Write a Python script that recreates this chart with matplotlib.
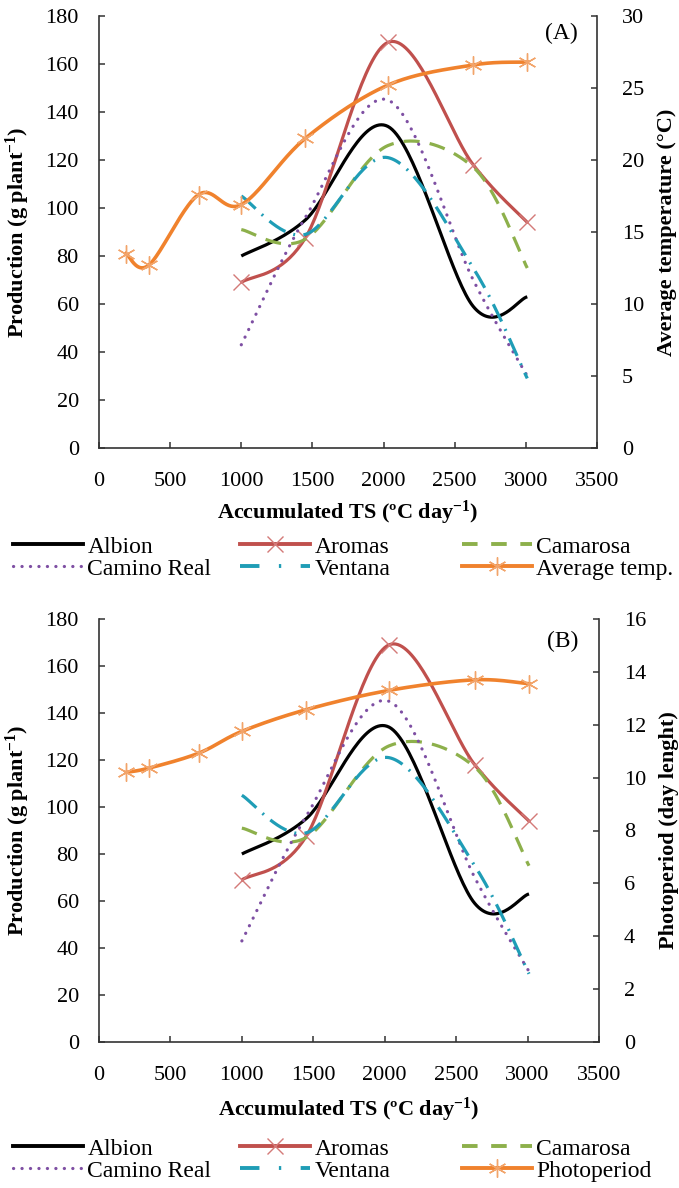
import numpy as np
import matplotlib
matplotlib.use("Agg")
import matplotlib.pyplot as plt
from matplotlib.lines import Line2D

plt.rcParams['font.family'] = ['Liberation Serif', 'DejaVu Serif']
plt.rcParams['mathtext.fontset'] = 'custom'
plt.rcParams['mathtext.rm'] = 'Liberation Serif'
plt.rcParams['mathtext.bf'] = 'Liberation Serif:bold'
plt.rcParams['mathtext.it'] = 'Liberation Serif:italic'

# ---------------- data ----------------
ts_cultivar = [1000, 1450, 2030, 2630, 3010]
albion = [80, 95, 134, 59, 63]
aromas = [69, 87.5, 169, 118, 94]
camarosa = [91, 87, 126, 117, 75]
camino_real = [43, 96, 145, 70, 30]
ventana = [105, 89, 121, 75, 29]

ts_env = [190, 350, 700, 1000, 1450, 2030, 2630, 3010]
avg_temp = [13.5, 12.7, 17.6, 16.9, 21.5, 25.2, 26.6, 26.8]
photoperiod = [10.2, 10.36, 10.93, 11.75, 12.57, 13.3, 13.7, 13.55]

x_ticks = [0, 500, 1000, 1500, 2000, 2500, 3000, 3500]
prod_ticks = [0, 20, 40, 60, 80, 100, 120, 140, 160, 180]
temp_ticks = [0, 5, 10, 15, 20, 25, 30]
photo_ticks = [0, 2, 4, 6, 8, 10, 12, 14, 16]

# ---------------- helpers ----------------
def smooth(x, y, n=40):
    """Excel-like smoothed line (Catmull-Rom as cubic Bezier)."""
    P = np.column_stack([x, y]).astype(float)
    m = len(P)
    out = []
    t = np.linspace(0, 1, n)[:, None]
    for i in range(m - 1):
        p0 = P[i - 1] if i > 0 else P[i]
        p1 = P[i]
        p2 = P[i + 1]
        p3 = P[i + 2] if i + 2 < m else P[i + 1]
        c1 = p1 + (p2 - p0) / 6.0
        c2 = p2 - (p3 - p1) / 6.0
        seg = ((1 - t) ** 3) * p1 + 3 * ((1 - t) ** 2) * t * c1 + 3 * (1 - t) * t ** 2 * c2 + t ** 3 * p2
        out.append(seg if i == 0 else seg[1:])
    s = np.vstack(out)
    return s[:, 0], s[:, 1]

C_ALB = 'black'
C_ARO = '#C0504D'
C_CAM = '#8DB04B'
C_CRE = '#7E4FA3'
C_VEN = '#1F9DB6'
C_ORG = '#F0822D'
LW = 2.3
FS = 16
FS_LEG = 17

ls_cam = (0, (5, 3.2))
ls_ven = (0, (6, 2.6, 0.6, 2.6))
ls_cre = (0, (0.05, 2.6))

fig = plt.figure(figsize=(6.79, 11.88), dpi=100)

def panel(rect, env_vals, env_ticks, env_max, env_label, env_name, tag, xlab_y, tag_y, leg_y):
    ax = fig.add_axes(rect)
    ax2 = ax.twinx()
    # cultivars
    xs, ys = smooth(ts_cultivar, albion)
    ax.plot(xs, ys, color=C_ALB, lw=LW, solid_capstyle='butt')
    xs, ys = smooth(ts_cultivar, aromas)
    ax.plot(xs, ys, color=C_ARO, lw=LW, solid_capstyle='butt')
    ax.plot(ts_cultivar, aromas, ls='none', marker='x', ms=11, mew=1.0,
            color='#D47A78')
    xs, ys = smooth(ts_cultivar, camarosa)
    ax.plot(xs, ys, color=C_CAM, lw=LW, ls=ls_cam)
    xs, ys = smooth(ts_cultivar, camino_real)
    ax.plot(xs, ys, color=C_CRE, lw=LW, ls=ls_cre, dash_capstyle='round')
    xs, ys = smooth(ts_cultivar, ventana)
    ax.plot(xs, ys, color=C_VEN, lw=LW, ls=ls_ven)
    # environment
    xs, ys = smooth(ts_env, env_vals)
    ax2.plot(xs, ys, color=C_ORG, lw=LW + 0.3)
    ax2.plot(ts_env, env_vals, ls='none', marker=(6, 2, 0), ms=13, mew=1.0,
             color='#F2A46A')

    ax.set_xlim(0, 3500)
    ax.set_ylim(0, 180)
    ax2.set_ylim(0, env_max)
    ax.set_xticks(x_ticks)
    ax.set_yticks(prod_ticks)
    ax2.set_yticks(env_ticks)
    for a in (ax, ax2):
        a.spines['top'].set_visible(False)
        for s in a.spines.values():
            s.set_linewidth(1.2)
            s.set_color('#333333')
    ax.spines['right'].set_visible(False)
    ax2.spines['left'].set_visible(False)
    ax2.spines['bottom'].set_visible(False)
    ax.tick_params(axis='y', direction='in', length=4, width=1.1, pad=14.5,
                   labelsize=FS, color='#333333')
    ax.tick_params(axis='x', direction='in', length=4, width=1.1, pad=17,
                   labelsize=FS, color='#333333')
    ax2.tick_params(axis='y', direction='in', length=4, width=1.1, pad=18,
                    labelsize=FS, color='#333333')
    ax.set_ylabel(r'Production (g plant$^{\mathbf{-1}}$)', fontsize=FS,
                  fontweight='bold', va='center', ha='center')
    ax.yaxis.set_label_coords(-0.163, 0.5)
    ax.set_xlabel(r'Accumulated TS (ºC day$^{\mathbf{-1}}$)', fontsize=FS,
                  fontweight='bold', va='center', ha='center')
    ax.xaxis.set_label_coords(0.5, xlab_y)
    ax2.set_ylabel(env_label, fontsize=FS, fontweight='bold', va='center',
                   ha='center')
    ax2.yaxis.set_label_coords(1.14, 0.5)
    ax.text(0.928, tag_y, tag, transform=ax.transAxes, fontsize=FS + 1,
            ha='center', va='center')
    ax.set_zorder(1)
    ax2.set_zorder(2)
    ax.patch.set_visible(False)
    ax2.patch.set_visible(False)

    # legend (3 columns x 2 rows)
    h_alb = Line2D([], [], color=C_ALB, lw=LW + 0.5)
    h_aro = Line2D([], [], color=C_ARO, lw=LW + 0.5, marker='x', ms=11,
                   mew=1.0, markeredgecolor='#D47A78')
    h_cam = Line2D([], [], color=C_CAM, lw=LW + 0.5, ls=(0, (4, 3.5)))
    h_cre = Line2D([], [], color=C_CRE, lw=LW, ls=ls_cre, dash_capstyle='round')
    h_ven = Line2D([], [], color=C_VEN, lw=LW + 0.5, ls=(0, (5, 5, 0.6, 5)))
    h_org = Line2D([], [], color=C_ORG, lw=LW + 0.5, marker=(6, 2, 0), ms=13,
                   mew=1.0, markeredgecolor='#F2A46A')
    cols = [([h_alb, h_cre], ['Albion', 'Camino Real'], 13),
            ([h_aro, h_ven], ['Aromas', 'Ventana'], 240),
            ([h_cam, h_org], ['Camarosa', env_name], 462)]
    for hs, ls, xpx in cols:
        fig.legend(hs, ls, loc='upper left',
                   bbox_to_anchor=(xpx / 679.0, 1 - leg_y / 1188.0),
                   frameon=False, fontsize=FS_LEG, handlelength=2.95,
                   handletextpad=0.2, borderpad=0, borderaxespad=0,
                   labelspacing=0.02, numpoints=1)
    return ax, ax2

panel([99 / 679, 1 - 448 / 1188, 498 / 679, 432 / 1188],
      avg_temp, temp_ticks, 30, 'Average temperature (°C)', 'Average temp.',
      '(A)', -0.150, 0.96, 536)
panel([99 / 679, 1 - 1042 / 1188, 500 / 679, 423 / 1188],
      photoperiod, photo_ticks, 16, 'Photoperiod (day lenght)', 'Photoperiod',
      '(B)', -0.161, 0.947, 1138)

fig.savefig('out.png', dpi=100)
